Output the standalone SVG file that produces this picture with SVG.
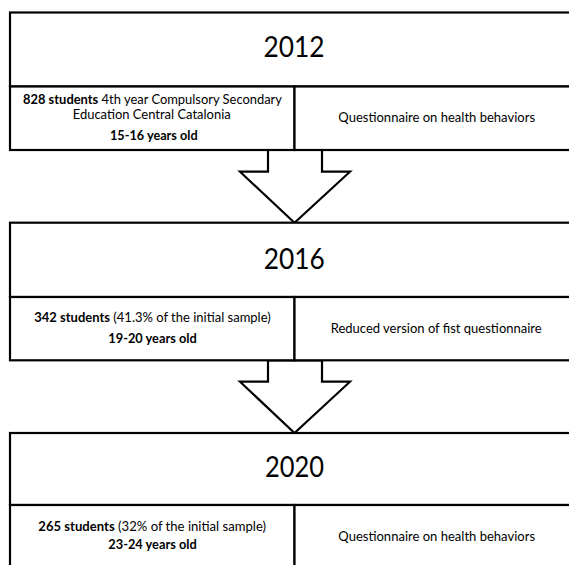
<svg xmlns="http://www.w3.org/2000/svg" width="569" height="565" viewBox="0 0 569 565">
  <style>
    .cell{fill:#fff;stroke:#000;stroke-width:2.2}
    .arrow{fill:#fff;stroke:#000;stroke-width:2.2;stroke-linejoin:miter}
    .year{font-family:Lato,"Open Sans","Liberation Sans",sans-serif;font-size:29px;text-anchor:middle;fill:#000}
    .t{font-family:Lato,"Open Sans","Liberation Sans",sans-serif;font-size:14px;text-anchor:middle;fill:#000}
    .b{font-weight:700}
  </style>
  <rect width="569" height="565" fill="#fff"/>

  <g id="connectors">
    <polygon class="arrow" points="268,150 268,171.7 240,171.7 294.5,222.7 350,171.7 322,171.7 322,150"/>
    <polygon class="arrow" points="268,360.3 268,381.7 240,381.7 294.5,433 350,381.7 322,381.7 322,360.3"/>
  </g>

  <g id="stage-2012">
    <g id="year-2012">
      <rect class="cell" x="10" y="12.5" width="572" height="74"/>
      <text class="year" x="294" y="57.3" textLength="61" lengthAdjust="spacingAndGlyphs">2012</text>
    </g>
    <g id="sample-2012">
      <rect class="cell" x="10" y="86.5" width="284.5" height="63.5"/>
      <text class="t" x="152.5" y="103.8" textLength="259" lengthAdjust="spacingAndGlyphs"><tspan class="b">828 students</tspan> 4th year Compulsory Secondary</text>
      <text class="t" x="151.7" y="119.3" textLength="158" lengthAdjust="spacingAndGlyphs">Education Central Catalonia</text>
      <text class="t b" x="153.8" y="139.5" textLength="87.7" lengthAdjust="spacingAndGlyphs">15-16 years old</text>
    </g>
    <g id="method-2012">
      <rect class="cell" x="294.5" y="86.5" width="287.5" height="63.5"/>
      <text class="t" x="436.7" y="122" textLength="196.7" lengthAdjust="spacingAndGlyphs">Questionnaire on health behaviors</text>
    </g>
  </g>

  <g id="stage-2016">
    <g id="year-2016">
      <rect class="cell" x="10" y="222.7" width="572" height="74.3"/>
      <text class="year" x="294.3" y="269.3" textLength="61" lengthAdjust="spacingAndGlyphs">2016</text>
    </g>
    <g id="sample-2016">
      <rect class="cell" x="10" y="297" width="284.5" height="63.3"/>
      <text class="t" x="152.5" y="321.7" textLength="236.4" lengthAdjust="spacingAndGlyphs"><tspan class="b">342 students</tspan> (41.3% of the initial sample)</text>
      <text class="t b" x="152.5" y="342.7" textLength="88.4" lengthAdjust="spacingAndGlyphs">19-20 years old</text>
    </g>
    <g id="method-2016">
      <rect class="cell" x="294.5" y="297" width="287.5" height="63.3"/>
      <text class="t" x="436.2" y="332.7" textLength="211" lengthAdjust="spacingAndGlyphs">Reduced version of fist questionnaire</text>
    </g>
  </g>

  <g id="stage-2020">
    <g id="year-2020">
      <rect class="cell" x="10" y="433" width="572" height="72"/>
      <text class="year" x="294.5" y="477" textLength="59" lengthAdjust="spacingAndGlyphs">2020</text>
    </g>
    <g id="sample-2020">
      <rect class="cell" x="10" y="505" width="284.5" height="64"/>
      <text class="t" x="152.2" y="530.5" textLength="227.7" lengthAdjust="spacingAndGlyphs"><tspan class="b">265 students</tspan> (32% of the initial sample)</text>
      <text class="t b" x="152.5" y="548.5" textLength="88.4" lengthAdjust="spacingAndGlyphs">23-24 years old</text>
    </g>
    <g id="method-2020">
      <rect class="cell" x="294.5" y="505" width="287.5" height="64"/>
      <text class="t" x="436.7" y="541" textLength="196.7" lengthAdjust="spacingAndGlyphs">Questionnaire on health behaviors</text>
    </g>
  </g>
</svg>
